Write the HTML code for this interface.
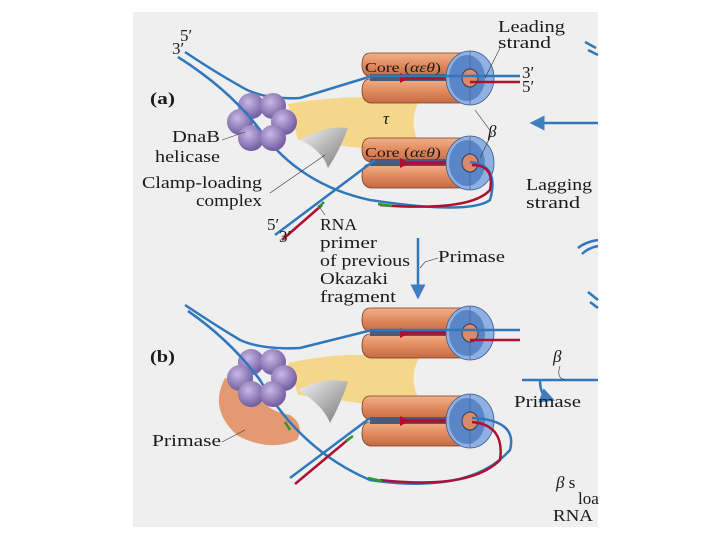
<!DOCTYPE html>
<html><head><style>
body{margin:0;background:#fff;width:720px;height:540px;overflow:hidden}
svg{display:block}
text{font-family:"Liberation Serif",serif;fill:#1a1a1a}
</style></head><body>
<svg width="720" height="540" viewBox="0 0 720 540">
<defs>
<linearGradient id="or" x1="0" y1="0" x2="0" y2="1"><stop offset="0" stop-color="#f2b089"/><stop offset="0.5" stop-color="#e08a5e"/><stop offset="1" stop-color="#c56a44"/></linearGradient>
<radialGradient id="ball" cx="0.4" cy="0.35" r="0.7"><stop offset="0" stop-color="#c9b8e6"/><stop offset="1" stop-color="#6a559a"/></radialGradient>
<linearGradient id="gr" x1="0" y1="0" x2="1" y2="1"><stop offset="0" stop-color="#f4f4f4"/><stop offset="1" stop-color="#777"/></linearGradient>
<marker id="ah" markerWidth="6" markerHeight="6" refX="3" refY="3" orient="auto"><path d="M0,0L6,3L0,6z" fill="#3f7fc0"/></marker>
<g id="core">
 <path d="M0,0 q-8,0 -8,12 q0,10 8,12 h93 v-24z" fill="url(#or)" stroke="#7a3b1f" stroke-width="0.8"/>
 <path d="M0,26 q-8,0 -8,12 q0,10 8,12 h93 v-24z" fill="url(#or)" stroke="#7a3b1f" stroke-width="0.8"/>
 <rect x="0" y="21" width="95" height="7" fill="#4a5a78"/>
 <path d="M34,25 h60" stroke="#b01030" stroke-width="3.5"/>
 <path d="M40,25 l-10,-5 v10z" fill="#b01030"/>
 <ellipse cx="100" cy="25" rx="24" ry="27" fill="#8fb0e0" stroke="#3a5a90" stroke-width="0.8"/>
 <ellipse cx="97" cy="25" rx="18" ry="23" fill="#5a86c8"/>
 <line x1="100" y1="-2" x2="100" y2="52" stroke="#3a5a90" stroke-width="0.6"/>
 <ellipse cx="100" cy="25" rx="8" ry="9" fill="#d88a6a" stroke="#2a3a60"/>
</g>
<g id="heli">
 <circle cx="-11" cy="-16" r="13" fill="url(#ball)"/><circle cx="11" cy="-16" r="13" fill="url(#ball)"/>
 <circle cx="22" cy="0" r="13" fill="url(#ball)"/><circle cx="-22" cy="0" r="13" fill="url(#ball)"/>
 <circle cx="-11" cy="16" r="13" fill="url(#ball)"/><circle cx="11" cy="16" r="13" fill="url(#ball)"/>
</g>
</defs>
<rect x="133" y="12" width="465" height="515" fill="#efefef"/>
<!-- panel a -->
<path d="M288,104 Q340,95 380,98 L422,96 Q405,122 422,148 L380,150 Q340,146 298,140z" fill="#f5d78c"/>
<path d="M300,140 Q325,125 348,128 Q340,150 328,168 Q322,150 300,140z" fill="url(#gr)"/>
<use href="#core" x="370" y="53"/>
<use href="#core" x="370" y="138"/>
<g fill="none" stroke="#2f78bb" stroke-width="2.5">
<path d="M185,52 Q215,72 240,86 Q262,100 300,98 L372,76 L500,76 L520,76"/>
<path d="M178,57 Q230,90 260,130 Q300,185 370,200 Q470,215 490,200 Q500,165 470,162"/>
<path d="M275,235 L375,160"/>
<path d="M596,48 L585,42 M598,55 L588,50"/>
<path d="M598,123 L537,123" marker-end="url(#ah)"/>
<path d="M418,238 L418,292" marker-end="url(#ah)"/>
<path d="M598,240 Q585,242 578,248 M598,246 Q588,248 582,254"/>
</g>
<path d="M470,82 L520,82" stroke="#b01030" stroke-width="2.5"/>
<path d="M282,240 L322,205" stroke="#b01030" stroke-width="2.5"/>
<path d="M318,208 L324,202" stroke="#2a9a30" stroke-width="2.5"/>
<path d="M380,205 Q470,212 490,190 Q495,165 472,165" stroke="#b01030" stroke-width="2.5" fill="none"/>
<path d="M378,204 L392,206" stroke="#2a9a30" stroke-width="2.5"/>
<use href="#heli" x="262" y="122"/>
<path d="M178,57 Q230,90 260,130" stroke="#2f78bb" stroke-width="2.5" fill="none"/>
<g stroke="#333" stroke-width="0.6" fill="none">
<path d="M222,140 L245,132 M270,193 L325,155 M500,48 L485,78 M492,133 L475,110 M492,133 L480,158 M325,215 L318,205 M438,258 L425,262 L420,268"/>
</g>
<g font-size="17" lengthAdjust="spacingAndGlyphs">
<text x="498" y="32" textLength="67" lengthAdjust="spacingAndGlyphs">Leading</text><text x="498" y="48" textLength="53" lengthAdjust="spacingAndGlyphs">strand</text>
<text x="180" y="41">5′</text><text x="172" y="54">3′</text>
<text x="150" y="104" font-weight="bold" textLength="25" lengthAdjust="spacingAndGlyphs">(a)</text>
<text x="522" y="78">3′</text><text x="522" y="92">5′</text>
<text x="383" y="124" font-style="italic">τ</text>
<text x="488" y="137" font-style="italic">β</text>
<text x="172" y="142" textLength="48" lengthAdjust="spacingAndGlyphs">DnaB</text><text x="155" y="162" textLength="65" lengthAdjust="spacingAndGlyphs">helicase</text>
<text x="142" y="188" textLength="120" lengthAdjust="spacingAndGlyphs">Clamp-loading</text><text x="196" y="206" textLength="66" lengthAdjust="spacingAndGlyphs">complex</text>
<text x="526" y="190" textLength="66" lengthAdjust="spacingAndGlyphs">Lagging</text><text x="526" y="208" textLength="54" lengthAdjust="spacingAndGlyphs">strand</text>
<text x="267" y="230">5′</text><text x="279" y="242">3′</text>
<text x="320" y="230" textLength="37" lengthAdjust="spacingAndGlyphs">RNA</text><text x="320" y="248" textLength="57" lengthAdjust="spacingAndGlyphs">primer</text><text x="320" y="266" textLength="90" lengthAdjust="spacingAndGlyphs">of previous</text><text x="320" y="284" textLength="68" lengthAdjust="spacingAndGlyphs">Okazaki</text><text x="320" y="302" textLength="76" lengthAdjust="spacingAndGlyphs">fragment</text>
<text x="438" y="262" textLength="67" lengthAdjust="spacingAndGlyphs">Primase</text>
</g>
<g font-size="14"><text x="365" y="72" textLength="76" lengthAdjust="spacingAndGlyphs">Core (<tspan font-style="italic">αεθ</tspan>)</text><text x="365" y="157" textLength="76" lengthAdjust="spacingAndGlyphs">Core (<tspan font-style="italic">αεθ</tspan>)</text></g>
<!-- panel b -->
<path d="M288,363 Q340,352 380,356 L422,354 Q405,378 422,404 L380,406 Q340,400 298,395z" fill="#f5d78c"/>
<path d="M298,390 Q325,376 348,382 Q340,405 330,423 Q323,405 298,390z" fill="url(#gr)"/>
<path d="M225,378 Q208,410 238,436 Q270,452 297,440 Q305,425 290,415 Q260,410 255,385z" fill="#e39a72"/>
<use href="#core" x="370" y="308"/>
<use href="#core" x="370" y="396"/>
<g fill="none" stroke="#2f78bb" stroke-width="2.5">
<path d="M185,305 Q215,325 240,340 Q262,350 300,348 L372,330 L520,330"/>
<path d="M188,311 Q230,340 260,380 Q300,450 370,480 Q470,495 510,450 Q518,420 472,418"/>
<path d="M290,478 L370,418"/>
<path d="M522,380 L598,380"/>
<path d="M540,380 Q540,395 548,398" marker-end="url(#ah)"/>
<path d="M598,300 L588,292 M598,308 L590,302"/>
</g>
<path d="M470,340 L520,340" stroke="#b01030" stroke-width="2.5"/>
<path d="M295,484 L350,438" stroke="#b01030" stroke-width="2.5"/>
<path d="M346,441 L353,436 M285,422 L290,430" stroke="#2a9a30" stroke-width="2.5"/>
<path d="M380,480 Q470,490 500,460 Q505,425 472,422" stroke="#b01030" stroke-width="2.5" fill="none"/>
<path d="M368,478 L382,481" stroke="#2a9a30" stroke-width="2.5"/>
<use href="#heli" x="262" y="378"/>
<path d="M188,311 Q230,340 260,380" stroke="#2f78bb" stroke-width="2.5" fill="none"/>
<path d="M222,442 L245,430 M560,366 Q556,378 565,380" stroke="#333" stroke-width="0.6" fill="none"/>
<g font-size="17">
<text x="150" y="362" font-weight="bold" textLength="25" lengthAdjust="spacingAndGlyphs">(b)</text>
<text x="553" y="362" font-style="italic">β</text>
<text x="514" y="407" textLength="67" lengthAdjust="spacingAndGlyphs">Primase</text>
<text x="152" y="446" textLength="69" lengthAdjust="spacingAndGlyphs">Primase</text>
<text x="556" y="488"><tspan font-style="italic">β</tspan> s</text>
<text x="578" y="504">loa</text>
<text x="553" y="521" textLength="40" lengthAdjust="spacingAndGlyphs">RNA</text>
</g>
</svg>
</body></html>
